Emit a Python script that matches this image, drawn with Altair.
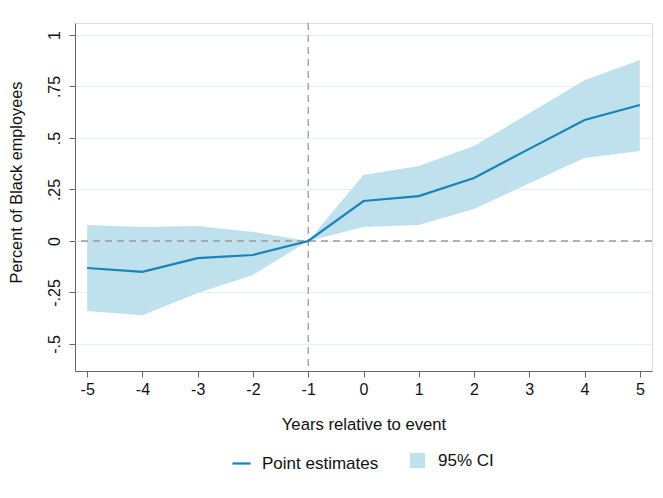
import altair as alt
import pandas as pd

years = [-5, -4, -3, -2, -1, 0, 1, 2, 3, 4, 5]
estimate = [-0.131, -0.150, -0.083, -0.068, 0.0, 0.194, 0.218, 0.306, 0.447, 0.587, 0.660]
ci_upper = [0.078, 0.068, 0.073, 0.044, 0.0, 0.320, 0.364, 0.461, 0.620, 0.780, 0.879]
ci_lower = [-0.340, -0.360, -0.252, -0.165, 0.0, 0.068, 0.078, 0.155, 0.280, 0.403, 0.437]
y_ticks = [-0.5, -0.25, 0, 0.25, 0.5, 0.75, 1]
x_ticks = years

df = pd.DataFrame({"year": years, "est": estimate, "lo": ci_lower, "hi": ci_upper,
                   "s1": "Point estimates", "s2": "95% CI"})

LINE = "#1784b8"
FILL = "#bfe0ed"
FONT = "Liberation Sans"

xs = alt.Scale(domain=[-5.22, 5.22], nice=False, zero=False)
ys = alt.Scale(domain=[-0.631, 1.058], nice=False, zero=False)

xaxis = alt.Axis(values=x_ticks, title="Years relative to event", grid=False,
                 labelExpr="datum.value + ''",
                 labelFontSize=16, titleFontSize=16.7, labelColor="#111", titleColor="#111",
                 labelFont=FONT, titleFont=FONT, titleFontWeight="normal",
                 domainColor="#666", tickColor="#666", tickSize=6, labelPadding=4,
                 titlePadding=19, labelFlush=False)
yaxis = alt.Axis(values=y_ticks, title="Percent of Black employees", grid=True,
                 gridColor="#e8eff2", gridWidth=1.2,
                 labelExpr="replace(datum.value + '', '0.', '.')",
                 labelAngle=-90, labelAlign="center", labelBaseline="bottom",
                 labelFontSize=16, titleFontSize=16.3, labelColor="#111", titleColor="#111",
                 labelFont=FONT, titleFont=FONT, titleFontWeight="normal",
                 domainColor="#666", tickColor="#666", tickSize=6, labelPadding=7,
                 titlePadding=22, titleY=159)

base = alt.Chart(df)

area = base.mark_area(opacity=1).encode(
    x=alt.X("year:Q", scale=xs, axis=xaxis),
    y=alt.Y("hi:Q", scale=ys, axis=yaxis),
    y2="lo:Q",
    fill=alt.Fill("s2:N", scale=alt.Scale(domain=["95% CI"], range=[FILL]),
                  legend=alt.Legend(title=None, orient="none", legendX=334, legendY=429,
                                    symbolType="square", symbolSize=230, symbolStrokeWidth=0,
                                    labelFontSize=17, labelFont=FONT, labelColor="#111",
                                    labelOffset=12)),
)

hrule = alt.Chart(pd.DataFrame({"y": [0]})).mark_rule(
    color="#999", strokeDash=[7, 5], strokeWidth=1.3).encode(y=alt.Y("y:Q", scale=ys))
vrule = alt.Chart(pd.DataFrame({"x": [-1]})).mark_rule(
    color="#999", strokeDash=[7, 5], strokeWidth=1.3).encode(x=alt.X("x:Q", scale=xs))

line = base.mark_line(strokeWidth=2.2).encode(
    x=alt.X("year:Q", scale=xs),
    y=alt.Y("est:Q", scale=ys),
    stroke=alt.Stroke("s1:N", scale=alt.Scale(domain=["Point estimates"], range=[LINE]),
                      legend=alt.Legend(title=None, orient="none", legendX=156, legendY=430,
                                        symbolType="stroke", symbolSize=330, symbolStrokeWidth=2.2,
                                        labelFontSize=17, labelFont=FONT, labelColor="#111",
                                        labelOffset=10)),
)

chart = alt.layer(area, hrule, vrule, line).resolve_scale(
    fill="independent", stroke="independent"
).properties(
    width=577, height=348,
    autosize=alt.AutoSizeParams(type="none"),
    padding={"left": 75, "top": 23, "right": 11, "bottom": 127},
).configure_view(stroke=None).configure(background="white")

chart.save("out.html", embed_options={"renderer": "svg", "actions": False})
